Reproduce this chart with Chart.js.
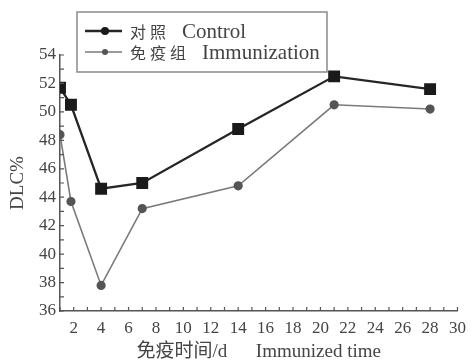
<!DOCTYPE html>
<html>
<head>
<meta charset="utf-8">
<script src="https://cdn.jsdelivr.net/npm/chart.js@4/dist/chart.umd.min.js"></script>
<style>
  html, body { margin: 0; padding: 0; background: #fff; }
  #wrap { width: 473px; height: 362px; }
</style>
</head>
<body>
<div id="wrap"><canvas id="chart" width="473" height="362"></canvas></div>
<script>
// Days after immunization
const days = [1, 1.8, 4, 7, 14, 21, 28];
// DLC% values
const controlValues = [51.7, 50.5, 44.6, 45.0, 48.8, 52.5, 51.6];
const immunValues = [48.4, 43.7, 37.8, 43.2, 44.8, 50.5, 50.2];
const seriesLabels = ['对照 Control', '免疫组 Immunization'];
const xTickLabels = [2, 4, 6, 8, 10, 12, 14, 16, 18, 20, 22, 24, 26, 28, 30];
const yTickLabels = [36, 38, 40, 42, 44, 46, 48, 50, 52, 54];

const FONT = "'Liberation Serif', 'Noto Sans CJK SC', serif";
const axisColor = '#555';
const textColor = '#444';

// Small inward tick marks on both axes (one per unit)
const innerTicks = {
  id: 'innerTicks',
  afterDraw(chart) {
    const { ctx, scales: { x, y } } = chart;
    ctx.save();
    ctx.strokeStyle = axisColor;
    ctx.lineWidth = 1.2;
    ctx.beginPath();
    for (let v = x.min; v <= x.max; v++) {
      const px = x.getPixelForValue(v);
      ctx.moveTo(px, y.bottom);
      ctx.lineTo(px, y.bottom - 4);
    }
    for (let v = y.min; v <= y.max; v++) {
      const py = y.getPixelForValue(v);
      ctx.moveTo(x.left, py);
      ctx.lineTo(x.left + 4, py);
    }
    ctx.stroke();
    ctx.restore();
  }
};

// Boxed legend drawn over the top-left corner
const boxLegend = {
  id: 'boxLegend',
  afterDraw(chart) {
    const ctx = chart.ctx;
    const left = 77, top = 12, width = 250, height = 60;
    ctx.save();
    ctx.fillStyle = '#fff';
    ctx.fillRect(left, top, width, height);
    ctx.strokeStyle = '#8a8a8a';
    ctx.lineWidth = 1.5;
    ctx.strokeRect(left, top, width, height);
    const rows = [31, 52];
    chart.data.datasets.forEach((ds, i) => {
      const cy = rows[i];
      ctx.strokeStyle = ds.borderColor;
      ctx.lineWidth = ds.borderWidth;
      ctx.beginPath();
      ctx.moveTo(85, cy);
      ctx.lineTo(122, cy);
      ctx.stroke();
      // marker, smaller than on the plot
      ctx.fillStyle = ds.pointBackgroundColor;
      ctx.beginPath();
      ctx.arc(105, cy, i === 0 ? 4 : 3, 0, Math.PI * 2);
      ctx.fill();
      // Chinese part spaced out, English part in serif
      const cut = ds.label.indexOf(' ');
      const zh = ds.label.slice(0, cut);
      const en = ds.label.slice(cut + 1);
      ctx.fillStyle = textColor;
      ctx.textBaseline = 'middle';
      ctx.font = "16px 'Noto Sans CJK SC'";
      let tx = 130;
      for (const ch of zh) {
        ctx.fillText(ch, tx, cy + 1);
        tx += 20;
      }
      ctx.font = '21px ' + FONT;
      ctx.fillText(en, tx + 12, cy + 1);
    });
    ctx.restore();
  }
};

const ctx = document.getElementById('chart').getContext('2d');
new Chart(ctx, {
  type: 'line',
  data: {
    datasets: [
      {
        label: seriesLabels[0],
        data: days.map((d, i) => ({ x: d, y: controlValues[i] })),
        borderColor: '#262626',
        borderWidth: 2.3,
        pointStyle: 'rect',
        pointRadius: 6.8,
        pointBackgroundColor: '#1a1a1a',
        pointBorderColor: '#1a1a1a',
        tension: 0
      },
      {
        label: seriesLabels[1],
        data: days.map((d, i) => ({ x: d, y: immunValues[i] })),
        borderColor: '#7a7a7a',
        borderWidth: 1.6,
        pointStyle: 'circle',
        pointRadius: 3.8,
        pointBackgroundColor: '#555',
        pointBorderColor: '#555',
        tension: 0
      }
    ]
  },
  options: {
    responsive: false,
    animation: false,
    layout: { padding: { top: 55, right: 11, left: 0, bottom: 0 } },
    plugins: { legend: { display: false }, tooltip: { enabled: false } },
    scales: {
      x: {
        type: 'linear',
        min: 1,
        max: 30,
        afterBuildTicks(scale) { scale.ticks = xTickLabels.map(v => ({ value: v })); },
        afterFit(scale) { scale.height = 51; },
        grid: { drawOnChartArea: false, drawTicks: false },
        border: { color: axisColor, width: 1.5 },
        ticks: { color: textColor, font: { family: FONT, size: 17 }, padding: 7, maxRotation: 0, autoSkip: false },
        title: {
          display: true,
          text: '免疫时间/d      Immunized time',
          color: textColor,
          font: { family: FONT, size: 19, lineHeight: 1 },
          padding: { top: 0, bottom: 0 }
        }
      },
      y: {
        min: 36,
        max: 54,
        afterBuildTicks(scale) { scale.ticks = yTickLabels.map(v => ({ value: v })); },
        afterFit(scale) { scale.width = 60; },
        grid: { drawOnChartArea: false, drawTicks: false },
        border: { color: axisColor, width: 1.5 },
        ticks: { color: textColor, font: { family: FONT, size: 17 }, padding: 4 },
        title: {
          display: true,
          text: 'DLC%',
          color: textColor,
          font: { family: FONT, size: 19, lineHeight: 1 },
          padding: { top: 9, bottom: 0 }
        }
      }
    }
  },
  plugins: [innerTicks, boxLegend]
});
</script>
</body>
</html>
